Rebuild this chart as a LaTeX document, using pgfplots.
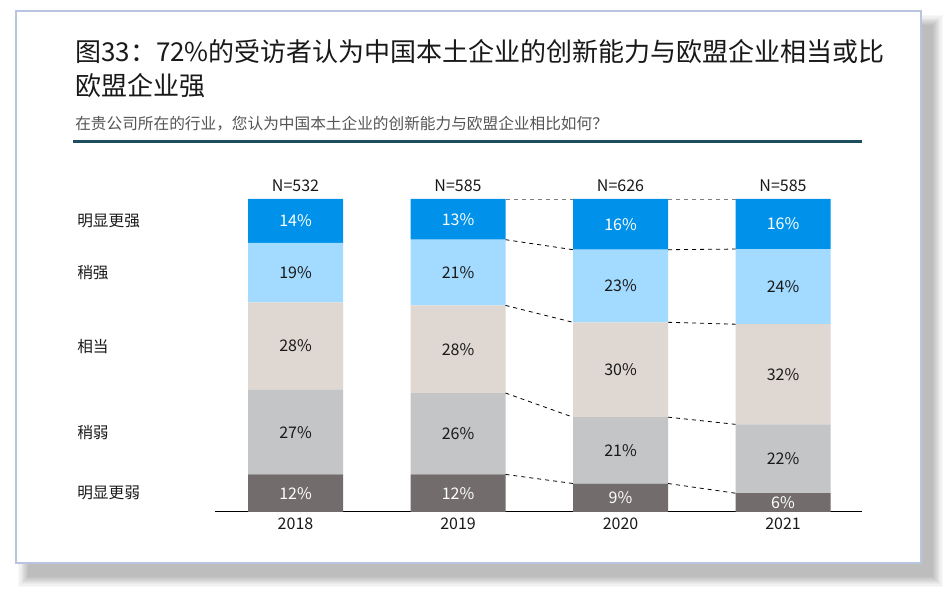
\documentclass[border=0pt]{standalone}
\usepackage{fontspec}
\setmainfont{Noto Sans CJK SC}
\usepackage{pgfplots}
\usepackage{pgfplotstable}
\pgfplotsset{compat=1.18}

\definecolor{cStrong}{RGB}{0,146,234}
\definecolor{cSlStrong}{RGB}{163,218,255}
\definecolor{cEqual}{RGB}{223,215,209}
\definecolor{cSlWeak}{RGB}{196,197,199}
\definecolor{cWeak}{RGB}{114,109,108}
\definecolor{frameblue}{RGB}{185,197,222}
\definecolor{rulecol}{RGB}{28,78,96}
\definecolor{subgray}{RGB}{85,85,85}
\definecolor{txt}{RGB}{25,25,25}

% shares, bottom to top (2020 rescaled to 100 as drawn)
\pgfplotstableread{
x  weak slweak equal slstrong strong
0  12   27     28    19       14
1  12   26     28    21       13
2  9.1  21.2   30.3  23.2     16.2
3  6    22     32    24       16
}\shares

% label positions (segment middles) and printed values
\pgfplotstableread{
x  mweak lweak mslw lslw meq   leq msls lsls mstr lstr n
0  6     12    25.5 27   53    28  76.5 19   93   14   N=532
1  6     12    25   26   52    28  76.5 21   93.5 13   N=585
2  4.55  9     19.7 21   45.45 30  72.2 23   91.9 16   N=626
3  3     6     17   22   44    32  72   24   92   16   N=585
}\mids

\pgfplotsset{
  frame axis/.style={
    at={(161.25pt,62.25pt)}, anchor=south west,
    scale only axis, width=485.25pt, height=234.75pt,
    xmin=-0.4954, xmax=3.486, ymin=0, ymax=100,
  },
  lab/.style={draw=none, mark=none, nodes near coords,
    point meta=explicit symbolic,
    every node near coord/.style={anchor=center, inner sep=0pt,
      font=\fontsize{12}{14}\selectfont, text=#1},
    nodes near coords={\pgfplotspointmeta\%}},
}

\begin{document}
\begin{tikzpicture}
\useasboundingbox (0,0) rectangle (713.25pt,446.25pt);
\fill[white] (0,0) rectangle (713.25pt,446.25pt);

% shadow
\foreach \e in {0,1,...,9}{
  \fill[black,opacity=0.027] ({(21-\e*0.8)*1pt},{(13.5-\e*0.8)*1pt})
    rectangle ({(699.75+\e*0.8)*1pt},{(427.5+\e*0.8)*1pt});
}
\draw[frameblue, line width=1.5pt, fill=white] (12pt,24pt) rectangle (690.75pt,438pt);

% title
\node[anchor=west, inner sep=0pt, text=txt, font=\fontsize{19.5}{24}\selectfont]
  at (56.25pt,407.25pt) {图33：72\%的受访者认为中国本土企业的创新能力与欧盟企业相当或比};
\node[anchor=west, inner sep=0pt, text=txt, font=\fontsize{19.5}{24}\selectfont]
  at (56.25pt,381.75pt) {欧盟企业强};
\node[anchor=west, inner sep=0pt, text=subgray, font=\fontsize{11.75}{14}\selectfont]
  at (56.25pt,353.25pt) {在贵公司所在的行业，您认为中国本土企业的创新能力与欧盟企业相比如何？};
\draw[rulecol, line width=2.25pt] (54.75pt,339.75pt) -- (646.5pt,339.75pt);

\begin{axis}[frame axis,
  ybar stacked, bar width=0.5846,
  axis x line*=bottom, hide y axis,
  axis line style={-, black, line width=0.75pt},
  xtick={0,1,2,3}, xticklabels={2018,2019,2020,2021},
  major tick length=0pt,
  xticklabel style={anchor=center, yshift=-8.5pt, text=txt,
    font=\fontsize{12}{14}\selectfont},
]
\addplot[fill=cWeak, draw=none] table[x=x, y=weak] {\shares};
\addplot[fill=cSlWeak, draw=none] table[x=x, y=slweak] {\shares};
\addplot[fill=cEqual, draw=none] table[x=x, y=equal] {\shares};
\addplot[fill=cSlStrong, draw=none] table[x=x, y=slstrong] {\shares};
\addplot[fill=cStrong, draw=none] table[x=x, y=strong] {\shares};
\end{axis}

\begin{axis}[frame axis, hide axis, clip=false]
% connectors 2019 -> 2020
\addplot[gray, dashed, line width=0.6pt] coordinates {(1.2923,100) (1.7077,100)};
\addplot[black, dashed, line width=0.6pt] coordinates {(1.2923,87) (1.7077,83.8)};
\addplot[black, dashed, line width=0.6pt] coordinates {(1.2923,66) (1.7077,60.6)};
\addplot[black, dashed, line width=0.6pt] coordinates {(1.2923,38) (1.7077,30.3)};
\addplot[black, dashed, line width=0.6pt] coordinates {(1.2923,12) (1.7077,9.1)};
% connectors 2020 -> 2021
\addplot[gray, dashed, line width=0.6pt] coordinates {(2.2923,100) (2.7077,100)};
\addplot[black, dashed, line width=0.6pt] coordinates {(2.2923,83.8) (2.7077,84)};
\addplot[black, dashed, line width=0.6pt] coordinates {(2.2923,60.6) (2.7077,60)};
\addplot[black, dashed, line width=0.6pt] coordinates {(2.2923,30.3) (2.7077,28)};
\addplot[black, dashed, line width=0.6pt] coordinates {(2.2923,9.1) (2.7077,6)};

% segment labels
\addplot[lab=white] table[x=x, y=mweak, meta=lweak] {\mids};
\addplot[lab=txt] table[x=x, y=mslw, meta=lslw] {\mids};
\addplot[lab=txt] table[x=x, y=meq, meta=leq] {\mids};
\addplot[lab=txt] table[x=x, y=msls, meta=lsls] {\mids};
\addplot[lab=white] table[x=x, y=mstr, meta=lstr] {\mids};

% sample sizes
\addplot[draw=none, mark=none, nodes near coords, point meta=explicit symbolic,
  every node near coord/.style={anchor=center, inner sep=0pt, yshift=9.75pt,
    font=\fontsize{12}{14}\selectfont, text=txt}]
  table[x=x, y expr=100, meta=n] {\mids};

% category names
\begin{scope}[every node/.style={anchor=west, inner sep=0pt, text=txt,
    font=\fontsize{11.75}{14}\selectfont}]
\node at (axis cs:-1.3446,93) {明显更强};
\node at (axis cs:-1.3446,76.5) {稍强};
\node at (axis cs:-1.3446,53) {相当};
\node at (axis cs:-1.3446,25.5) {稍弱};
\node at (axis cs:-1.3446,6) {明显更弱};
\end{scope}
\end{axis}
\end{tikzpicture}
\end{document}
